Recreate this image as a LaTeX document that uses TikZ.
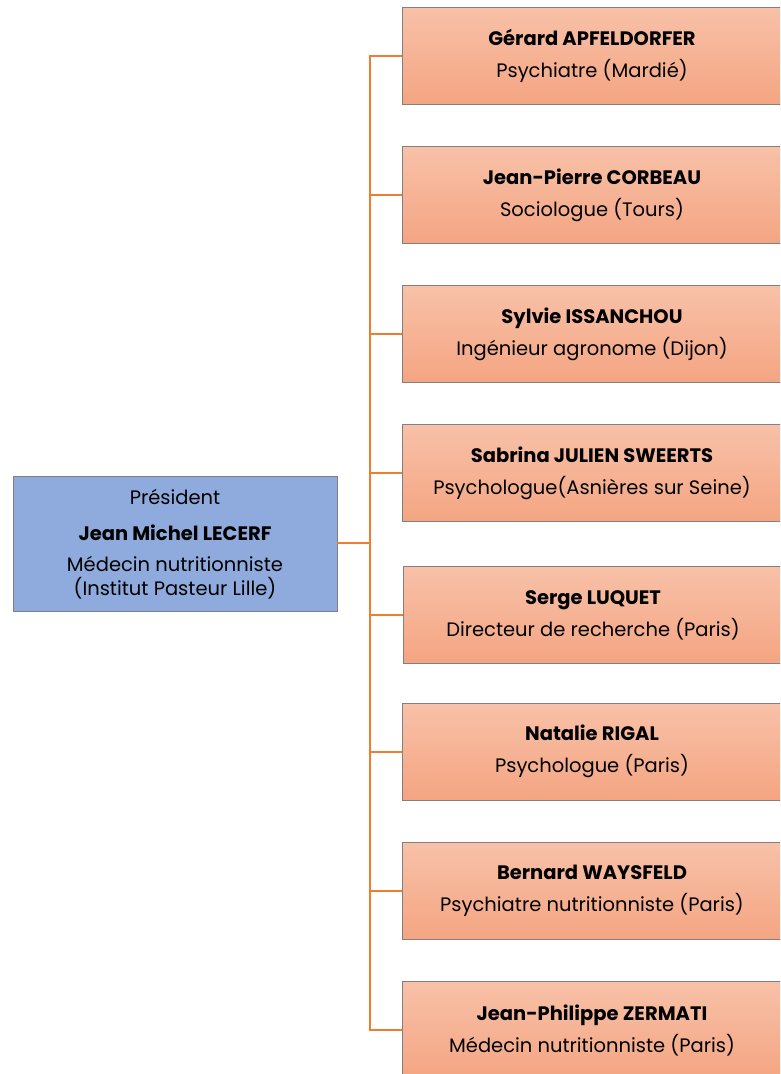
\documentclass[tikz,border=0pt]{standalone}
\usepackage{fontspec}
\setmainfont{Poppins}
\definecolor{presblue}{HTML}{8FAADC}
\definecolor{orangetop}{HTML}{F8C1A8}
\definecolor{orangebot}{HTML}{F4A582}
\definecolor{linkorange}{HTML}{ED7D31}
\definecolor{boxline}{HTML}{808080}
\begin{document}
\begin{tikzpicture}[x=1pt, y=-1pt,
  pres/.style={draw=boxline, fill=presblue, minimum width=324pt, minimum height=135pt,
    align=center, inner sep=0pt, font=\fontsize{19.5}{24}\selectfont},
  member/.style={draw=boxline, top color=orangetop, bottom color=orangebot,
    minimum width=380pt, minimum height=97pt, align=center, inner sep=0pt,
    font=\fontsize{19.5}{24}\selectfont},
  link/.style={draw=linkorange, line width=2pt}]
\useasboundingbox (0,0) rectangle (780,1074);
\clip (0,0) rectangle (780,1074);
\node[pres] (lecerf) at (175,544) {Président\\[12pt]\textbf{Jean Michel LECERF}\\[7pt]Médecin nutritionniste\\(Institut Pasteur Lille)};
\node[member] (m1) at (592,55.5) {\textbf{Gérard APFELDORFER}\\[8pt]Psychiatre (Mardié)};
\node[member] (m2) at (592,195) {\textbf{Jean-Pierre CORBEAU}\\[8pt]Sociologue (Tours)};
\node[member] (m3) at (592,334) {\textbf{Sylvie ISSANCHOU}\\[8pt]Ingénieur agronome (Dijon)};
\node[member] (m4) at (592,473) {\textbf{Sabrina JULIEN SWEERTS}\\[8pt]Psychologue(Asnières sur Seine)};
\node[member] (m5) at (593,615) {\textbf{Serge LUQUET}\\[8pt]Directeur de recherche (Paris)};
\node[member] (m6) at (592,751.5) {\textbf{Natalie RIGAL}\\[8pt]Psychologue (Paris)};
\node[member] (m7) at (592,891) {\textbf{Bernard WAYSFELD}\\[8pt]Psychiatre nutritionniste (Paris)};
\node[member] (m8) at (592,1030) {\textbf{Jean-Philippe ZERMATI}\\[8pt]Médecin nutritionniste (Paris)};
\coordinate (hub) at (370,543);
\draw[link] (lecerf.east |- hub) -- (hub);
\draw[link, line cap=rect] (hub |- m1.west) -- (hub |- m8.west);
\foreach \i in {1,...,8}
  \draw[link] (hub |- m\i.west) -- (m\i.west);
\end{tikzpicture}
\end{document}
